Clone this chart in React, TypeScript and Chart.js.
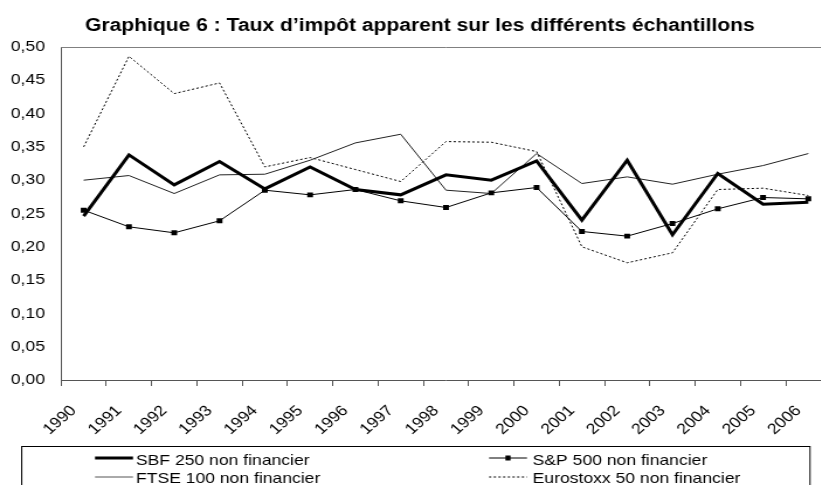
import React, { useEffect, useRef } from 'react';
import { Chart, registerables } from 'chart.js';

Chart.register(...registerables);

const years = ['1990', '1991', '1992', '1993', '1994', '1995', '1996', '1997', '1998', '1999', '2000', '2001', '2002', '2003', '2004', '2005', '2006'];
const sbf250 = [0.246, 0.338, 0.293, 0.328, 0.287, 0.320, 0.286, 0.278, 0.308, 0.300, 0.329, 0.240, 0.330, 0.218, 0.310, 0.264, 0.267];
const sp500 = [0.255, 0.230, 0.221, 0.239, 0.285, 0.278, 0.286, 0.269, 0.259, 0.281, 0.289, 0.223, 0.216, 0.235, 0.257, 0.274, 0.272];
const ftse100 = [0.300, 0.307, 0.280, 0.308, 0.309, 0.330, 0.356, 0.369, 0.285, 0.280, 0.340, 0.295, 0.305, 0.294, 0.309, 0.322, 0.340];
const eurostoxx50 = [0.350, 0.486, 0.430, 0.446, 0.320, 0.334, 0.316, 0.298, 0.358, 0.357, 0.343, 0.200, 0.176, 0.191, 0.286, 0.288, 0.277];
const yTickLabels = ['0,00', '0,05', '0,10', '0,15', '0,20', '0,25', '0,30', '0,35', '0,40', '0,45', '0,50'];
const titleText = 'Graphique 6 : Taux d\u2019imp\u00f4t apparent sur les diff\u00e9rents \u00e9chantillons';
const seriesNames = ['SBF 250 non financier', 'S&P 500 non financier', 'FTSE 100 non financier', 'Eurostoxx 50 non financier'];

const CANVAS_W = 727;
const CANVAS_H = 485;
const DISPLAY_W = 850;
const S = DISPLAY_W / CANVAS_W;
const FONT = '"Liberation Sans", Arial, Helvetica, sans-serif';

export default function App() {
  const ref = useRef<HTMLCanvasElement>(null);

  useEffect(() => {
    const canvas = ref.current;
    if (!canvas) return;

    const overlay = {
      id: 'overlay',
      afterDraw(chart: any) {
        const ctx = chart.ctx as CanvasRenderingContext2D;
        const a = chart.chartArea;
        ctx.save();
        // plot area top border
        ctx.strokeStyle = '#808080';
        ctx.lineWidth = 1;
        ctx.beginPath();
        ctx.moveTo(a.left, a.top + 0.5);
        ctx.lineTo(a.right, a.top + 0.5);
        ctx.stroke();

        // title
        ctx.fillStyle = '#000';
        ctx.font = `bold 18px ${FONT}`;
        ctx.textAlign = 'center';
        ctx.textBaseline = 'alphabetic';
        ctx.fillText(titleText, 420 / S, 30.5);

        // legend box
        ctx.strokeStyle = '#000';
        ctx.lineWidth = 1;
        ctx.strokeRect(21.7 / S, 446.5, (810 - 21.7) / S, 60);

        ctx.font = `15px ${FONT}`;
        ctx.textAlign = 'left';
        ctx.fillStyle = '#000';

        // SBF
        ctx.strokeStyle = '#000';
        ctx.lineWidth = 3;
        ctx.beginPath();
        ctx.moveTo(95 / S, 458);
        ctx.lineTo(133 / S, 458);
        ctx.stroke();
        ctx.fillText(seriesNames[0], 136 / S, 464.7);

        // FTSE
        ctx.strokeStyle = '#555';
        ctx.lineWidth = 1;
        ctx.beginPath();
        ctx.moveTo(95 / S, 477);
        ctx.lineTo(133 / S, 477);
        ctx.stroke();
        ctx.fillText(seriesNames[2], 136 / S, 482.7);

        // S&P
        ctx.strokeStyle = '#000';
        ctx.beginPath();
        ctx.moveTo(489 / S, 458);
        ctx.lineTo(527 / S, 458);
        ctx.stroke();
        ctx.fillRect(508 / S - 2.2, 455.5, 4.4, 5);
        ctx.fillText(seriesNames[1], 532.7 / S, 464.7);

        // Eurostoxx
        ctx.setLineDash([2, 2]);
        ctx.beginPath();
        ctx.moveTo(489 / S, 477);
        ctx.lineTo(527 / S, 477);
        ctx.stroke();
        ctx.setLineDash([]);
        ctx.fillText(seriesNames[3], 532.7 / S, 482.7);

        ctx.restore();
      },
    };

    const chart = new Chart(canvas, {
      type: 'line',
      data: {
        labels: years,
        datasets: [
          {
            label: seriesNames[0],
            data: sbf250,
            borderColor: '#000',
            borderWidth: 3,
            pointRadius: 0,
            tension: 0,
          },
          {
            label: seriesNames[1],
            data: sp500,
            borderColor: '#000',
            borderWidth: 1,
            pointStyle: 'rect',
            pointRadius: 3.5,
            pointBackgroundColor: '#000',
            pointBorderColor: '#000',
            pointBorderWidth: 0,
            tension: 0,
          },
          {
            label: seriesNames[2],
            data: ftse100,
            borderColor: '#222',
            borderWidth: 1,
            pointRadius: 0,
            tension: 0,
          },
          {
            label: seriesNames[3],
            data: eurostoxx50,
            borderColor: '#000',
            borderWidth: 1,
            borderDash: [2, 2],
            pointRadius: 0,
            tension: 0,
          },
        ],
      },
      options: {
        responsive: false,
        animation: false,
        events: [],
        layout: { padding: { left: 0, top: 47, right: CANVAS_W - 831 / S, bottom: 0 } },
        plugins: {
          legend: { display: false },
          title: { display: false },
          tooltip: { enabled: false },
        },
        scales: {
          x: {
            type: 'category',
            offset: true,
            grid: {
              display: true,
              drawOnChartArea: false,
              drawTicks: true,
              tickLength: 6,
              offset: true,
              color: '#555',
            },
            border: { display: true, color: '#555', width: 1 },
            ticks: {
              autoSkip: false,
              minRotation: 45,
              maxRotation: 45,
              labelOffset: -8.5,
              padding: 16,
              color: '#000',
              font: { size: 15, family: FONT },
            },
            afterFit: (s: any) => {
              s.height = 105;
            },
          },
          y: {
            min: 0,
            max: 0.5,
            grid: { display: false, drawTicks: false },
            border: { display: true, color: '#555', width: 1 },
            ticks: {
              stepSize: 0.05,
              padding: 13.7,
              color: '#000',
              font: { size: 15, family: FONT },
              callback: (_v: any, i: number) => yTickLabels[i],
            },
            afterFit: (s: any) => {
              s.width = 61 / S;
            },
          },
        },
      },
      plugins: [overlay],
    } as any);

    return () => chart.destroy();
  }, []);

  return (
    <div style={{ position: 'fixed', left: 0, top: 0, width: 821, height: 485, overflow: 'hidden', background: '#fff' }}>
      <canvas
        ref={ref}
        width={CANVAS_W}
        height={CANVAS_H}
        style={{ width: `${DISPLAY_W}px`, height: `${CANVAS_H}px`, display: 'block' }}
      />
    </div>
  );
}
